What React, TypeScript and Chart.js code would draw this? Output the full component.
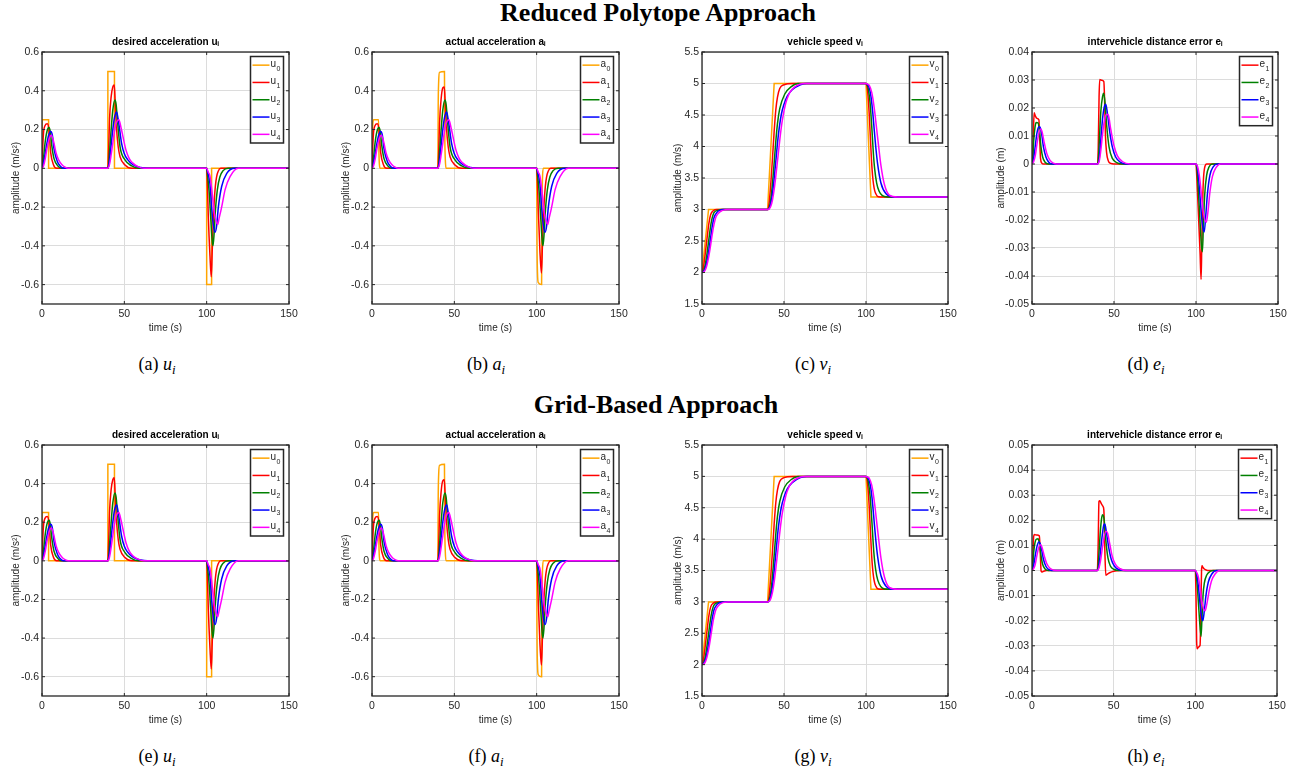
import React, { useEffect, useRef } from "react";
import { Chart, registerables } from "chart.js";

Chart.register(...registerables);

type P = [number, number][];

// ---------- tick labels ----------
const X_TICKS = [0, 50, 100, 150];
const ACC_TICKS = [-0.6, -0.4, -0.2, 0, 0.2, 0.4, 0.6];
const V_TICKS = [1.5, 2, 2.5, 3, 3.5, 4, 4.5, 5, 5.5];
const E_TICKS_RP = [-0.05, -0.04, -0.03, -0.02, -0.01, 0, 0.01, 0.02, 0.03, 0.04];
const E_TICKS_GB = [-0.05, -0.04, -0.03, -0.02, -0.01, 0, 0.01, 0.02, 0.03, 0.04, 0.05];

// ---------- desired acceleration u_i (time s, m/s^2) ----------
const U0: P = [[0, 0], [0, 0.25], [4, 0.25], [4, 0], [40, 0], [40, 0.5], [44, 0.5], [44, 0], [100, 0], [100, -0.6], [103, -0.6], [103, 0], [150, 0]];
const U1_P1: P = [[0, 0], [0.5, 0.12], [1, 0.19], [1.8, 0.22], [3.2, 0.23], [4.2, 0.2], [5.3, 0.08], [6.9, 0.02], [8.9, 0]];
const U1_P2: P = [[40, 0], [40.5, 0.1], [41, 0.25], [42, 0.37], [43, 0.42], [43.9, 0.43], [44.5, 0.33], [45.3, 0.2], [46.3, 0.11], [47.4, 0.06], [50.4, 0.017], [54.5, 0]];
const U1_P3: P = [[100, 0], [100.5, -0.1], [101, -0.25], [102, -0.45], [102.8, -0.56], [103.4, -0.42], [104, -0.27], [104.6, -0.17], [105.3, -0.09], [106, -0.045], [107, -0.015], [108.6, 0]];
const U2_P1: P = [[0, 0], [0.5, 0.02], [1, 0.06], [2, 0.14], [3, 0.19], [4.3, 0.21], [5, 0.19], [5.9, 0.12], [7.3, 0.05], [9.9, 0.01], [12, 0]];
const U2_P2: P = [[40, 0], [40.5, 0.02], [41, 0.08], [42, 0.2], [43, 0.3], [44.3, 0.352], [45, 0.33], [46, 0.23], [47.4, 0.11], [50.4, 0.043], [54.5, 0.012], [58.6, 0]];
const U2_P3: P = [[100, 0], [100.6, -0.04], [101.5, -0.12], [102.5, -0.26], [103.3, -0.37], [103.8, -0.4], [104.5, -0.34], [105.3, -0.22], [106.5, -0.11], [108, -0.045], [110, -0.012], [113, 0]];
const U3_P1: P = [[0, 0], [1, 0.03], [2, 0.08], [3, 0.13], [4, 0.17], [5.3, 0.19], [6.3, 0.17], [7.3, 0.1], [9.3, 0.035], [11, 0.012], [13, 0]];
const U3_P2: P = [[40, 0], [41, 0.04], [42, 0.12], [43, 0.2], [44, 0.26], [45.3, 0.29], [46.5, 0.24], [48.3, 0.13], [50, 0.075], [52, 0.045], [55, 0.02], [60, 0.004], [64, 0]];
const U3_P3: P = [[100, 0], [100.6, -0.02], [102, -0.08], [103, -0.2], [104, -0.29], [105.1, -0.33], [106, -0.3], [107.1, -0.2], [109.1, -0.094], [112.2, -0.026], [117.2, 0]];
const U4_P1: P = [[0, 0], [1, 0.015], [2, 0.05], [3, 0.1], [4, 0.14], [5, 0.165], [5.7, 0.17], [7, 0.14], [8.5, 0.08], [10, 0.045], [12, 0.02], [14, 0.006], [16, 0]];
const U4_P2: P = [[40, 0], [41, 0.02], [42, 0.07], [43, 0.13], [44, 0.19], [45, 0.23], [46.7, 0.25], [48, 0.21], [49, 0.17], [51, 0.094], [53, 0.05], [55, 0.028], [58, 0.01], [62, 0]];
const U4_P3: P = [[100, 0], [101, -0.02], [102, -0.04], [103.5, -0.14], [104.5, -0.22], [105.5, -0.265], [106.7, -0.29], [107.5, -0.26], [109.1, -0.2], [111.2, -0.11], [114.2, -0.043], [119.2, 0]];

// ---------- actual acceleration a_i ----------
const A0: P = [[0, 0], [0.2, 0.16], [0.5, 0.23], [1, 0.25], [4, 0.25], [4.2, 0.09], [4.5, 0.02], [5, 0], [40, 0], [40.2, 0.32], [40.5, 0.45], [41, 0.495], [44, 0.5], [44.2, 0.18], [44.5, 0.05], [45, 0], [100, 0], [100.2, -0.38], [100.5, -0.54], [101, -0.59], [103, -0.6], [103.2, -0.22], [103.5, -0.06], [104, 0], [150, 0]];
const A1_P2: P = [[40, 0], [40.5, 0.08], [41, 0.23], [42, 0.36], [43, 0.415], [43.9, 0.42], [44.5, 0.33], [45.3, 0.2], [46.3, 0.11], [47.4, 0.06], [50.4, 0.017], [54.5, 0]];
const A1_P3: P = [[100, 0], [100.5, -0.08], [101, -0.22], [102, -0.43], [102.9, -0.54], [103.5, -0.4], [104, -0.27], [104.6, -0.17], [105.3, -0.09], [106, -0.045], [107, -0.015], [108.6, 0]];

// ---------- vehicle speed v_i (m/s) ----------
const V0: P = [[0, 2], [4, 3], [40, 3], [44, 5], [100, 5], [103, 3.2], [150, 3.2]];
const V1_P1: P = [[0, 2], [0.5, 2.03], [1, 2.1], [1.8, 2.26], [3.2, 2.57], [4.2, 2.78], [5.3, 2.92], [6.9, 2.98], [9, 3]];
const V1_P2: P = [[40, 3], [41, 3.12], [42, 3.43], [43, 3.82], [44, 4.24], [45, 4.58], [46, 4.78], [47.4, 4.92], [50, 4.98], [55, 5]];
const V1_P3: P = [[100, 5], [100.5, 4.97], [101, 4.88], [102, 4.5], [102.8, 4.07], [103.4, 3.76], [104, 3.54], [104.6, 3.4], [105.3, 3.3], [106, 3.25], [107, 3.21], [108.6, 3.2]];
const V2_P1: P = [[0, 2], [1, 2.025], [2, 2.125], [3, 2.29], [4.3, 2.55], [5, 2.69], [5.9, 2.83], [7.3, 2.95], [9.9, 2.99], [12, 3]];
const V2_P2: P = [[40, 3], [41, 3.03], [42, 3.17], [43, 3.42], [44.3, 3.84], [45, 4.08], [46, 4.36], [47.4, 4.6], [50.4, 4.83], [54.5, 4.95], [58.6, 5]];
const V2_P3: P = [[100, 5], [100.6, 4.99], [101.5, 4.9], [102.5, 4.69], [103.3, 4.4], [103.8, 4.19], [104.5, 3.89], [105.3, 3.64], [106.5, 3.42], [108, 3.29], [110, 3.22], [113, 3.2]];
const V3_P1: P = [[0, 2], [1, 2.015], [2, 2.07], [3, 2.175], [4, 2.325], [5.3, 2.56], [6.3, 2.74], [7.3, 2.87], [9.3, 2.96], [11, 2.99], [13, 3]];
const V3_P2: P = [[40, 3], [41, 3.02], [42, 3.1], [43, 3.26], [44, 3.49], [45.3, 3.85], [46.5, 4.17], [48.3, 4.5], [50, 4.67], [52, 4.8], [55, 4.9], [60, 4.98], [64, 5]];
const V3_P3: P = [[100, 5], [100.6, 4.99], [102, 4.93], [103, 4.8], [104, 4.57], [105.1, 4.24], [106, 3.98], [107.1, 3.72], [109.1, 3.42], [112.2, 3.25], [117.2, 3.2]];
const V4_P1: P = [[0, 2], [1, 2.008], [2, 2.04], [3, 2.115], [4, 2.235], [5, 2.39], [5.7, 2.51], [7, 2.72], [8.5, 2.88], [10, 2.94], [12, 2.98], [14, 2.995], [16, 3]];
const V4_P2: P = [[40, 3], [41, 3.01], [42, 3.055], [43, 3.155], [44, 3.315], [45, 3.525], [46.7, 3.93], [48, 4.23], [49, 4.42], [51, 4.68], [53, 4.83], [55, 4.91], [58, 4.97], [62, 5]];
const V4_P3: P = [[100, 5], [101, 4.99], [102, 4.97], [103.5, 4.86], [104.5, 4.71], [105.5, 4.51], [106.7, 4.23], [107.5, 4.05], [109.1, 3.7], [111.2, 3.4], [114.2, 3.23], [119.2, 3.2]];

// ---------- distance error e_i, reduced polytope (m) ----------
const E1_P1: P = [[0, 0], [0.5, 0.003], [0.9, 0.012], [1.3, 0.0183], [2, 0.0172], [3, 0.0163], [4.2, 0.0158], [4.7, 0.009], [5.2, 0.002], [6, 0.0003], [7, 0]];
const E1_P2: P = [[40, 0], [40.4, 0.006], [40.9, 0.024], [41.3, 0.0302], [42.5, 0.0299], [43.8, 0.0294], [44.3, 0.022], [44.8, 0.01], [45.5, 0.004], [46.5, 0.0012], [48, 0.0002], [50, 0]];
const E1_P3: P = [[100, 0], [100.5, -0.005], [101.5, -0.018], [102.5, -0.032], [103.1, -0.0412], [103.5, -0.03], [104, -0.015], [104.5, -0.006], [105.2, -0.0015], [106.5, 0]];
const E2_P1: P = [[0, 0], [0.5, 0.002], [1, 0.008], [1.8, 0.013], [2.5, 0.0148], [3.7, 0.0147], [4.5, 0.012], [5.5, 0.006], [6.5, 0.0025], [8, 0.0006], [10, 0]];
const E2_P2: P = [[40, 0], [40.5, 0.002], [41.2, 0.01], [42, 0.019], [43, 0.024], [43.7, 0.0253], [44.5, 0.022], [45.5, 0.014], [47, 0.006], [49, 0.002], [52, 0.0004], [55, 0]];
const E2_P3: P = [[100, 0], [100.6, -0.002], [101.5, -0.01], [102.5, -0.021], [103.3, -0.029], [103.9, -0.0313], [104.5, -0.022], [105.3, -0.011], [106.5, -0.004], [108, -0.001], [110, 0]];
const E3_P1: P = [[0, 0], [1, 0.002], [2, 0.0065], [3, 0.011], [4, 0.0132], [4.8, 0.0133], [5.8, 0.011], [7, 0.006], [8.5, 0.0025], [10, 0.0008], [12, 0]];
const E3_P2: P = [[40, 0], [41, 0.002], [42, 0.009], [43, 0.016], [44, 0.0202], [45, 0.0213], [46, 0.018], [47.5, 0.011], [49, 0.006], [51, 0.0025], [54, 0.0006], [58, 0]];
const E3_P3: P = [[100, 0], [101, -0.002], [102, -0.008], [103, -0.016], [104, -0.022], [105, -0.0243], [106, -0.018], [107, -0.0105], [108.5, -0.004], [110.5, -0.001], [113, 0]];
const E4_P1: P = [[0, 0], [1, 0.0008], [2, 0.003], [3, 0.007], [4, 0.0105], [5.2, 0.0125], [6, 0.0118], [7.5, 0.0075], [9, 0.0038], [11, 0.0013], [13, 0.0003], [15, 0]];
const E4_P2: P = [[40, 0], [41, 0.001], [42, 0.005], [43, 0.0105], [44, 0.015], [45.5, 0.0178], [46.5, 0.0175], [48, 0.0125], [50, 0.0065], [52, 0.003], [55, 0.0009], [60, 0]];
const E4_P3: P = [[100, 0], [101, -0.001], [102, -0.004], [103, -0.009], [104, -0.015], [105, -0.019], [106.3, -0.0208], [107.3, -0.017], [108.5, -0.01], [110, -0.0045], [112, -0.0015], [115, 0]];

// ---------- distance error e_i, grid-based (m) ----------
const H1_P1: P = [[0, 0], [0.5, 0.004], [1, 0.0135], [1.5, 0.0143], [3, 0.0141], [4.5, 0.0138], [5, 0.008], [5.6, -0.0003], [6.2, -0.0006], [7.5, -0.0002], [9, 0]];
const H1_P2: P = [[40, 0], [40.5, 0.01], [41, 0.0275], [41.5, 0.0278], [42.5, 0.0265], [43.5, 0.0255], [44, 0.024], [44.6, 0.008], [45.2, -0.0019], [46, -0.0015], [47.5, -0.0009], [50, -0.0003], [54, 0]];
const H1_P3: P = [[100, 0], [100.4, -0.01], [100.8, -0.028], [101.1, -0.0312], [102, -0.0305], [102.9, -0.0298], [103.4, -0.015], [103.8, 0], [104.1, 0.0019], [104.7, 0.0012], [105.5, 0.0006], [107, 0.0001], [108, 0]];
const H2_P1: P = [[0, 0], [0.5, 0.002], [1, 0.007], [1.8, 0.011], [2.7, 0.0125], [3.7, 0.0126], [4.5, 0.011], [5.5, 0.006], [6.5, 0.0025], [8, 0.0006], [10, 0]];
const H2_P2: P = [[40, 0], [40.5, 0.002], [41.2, 0.009], [42, 0.017], [42.8, 0.0215], [43.4, 0.0222], [44.2, 0.02], [45.2, 0.012], [46.5, 0.005], [48, 0.0018], [50, 0.0005], [53, 0]];
const H2_P3: P = [[100, 0], [100.6, -0.002], [101.5, -0.009], [102.5, -0.019], [103.5, -0.0263], [104, -0.02], [104.7, -0.01], [105.5, -0.005], [107, -0.0018], [109, -0.0004], [111, 0]];
const H3_P1: P = [[0, 0], [1, 0.002], [2, 0.006], [3, 0.0095], [4.2, 0.0114], [5, 0.0108], [6, 0.008], [7, 0.0045], [8.5, 0.0017], [10, 0.0005], [12, 0]];
const H3_P2: P = [[40, 0], [41, 0.002], [42, 0.008], [43, 0.014], [44, 0.0182], [44.6, 0.0185], [45.6, 0.015], [47, 0.009], [48.5, 0.0045], [50.5, 0.0017], [53, 0.0004], [57, 0]];
const H3_P3: P = [[100, 0], [101, -0.002], [102, -0.007], [103, -0.014], [104, -0.019], [104.6, -0.02], [105.5, -0.016], [106.5, -0.01], [108, -0.0045], [110, -0.0015], [113, 0]];
const H4_P1: P = [[0, 0], [1, 0.0007], [2, 0.0025], [3, 0.006], [4, 0.009], [5, 0.0103], [6, 0.0095], [7.5, 0.0058], [9, 0.0028], [11, 0.0009], [13, 0.0002], [15, 0]];
const H4_P2: P = [[40, 0], [41, 0.001], [42, 0.004], [43, 0.0085], [44, 0.0128], [45.3, 0.0156], [46.3, 0.0148], [47.5, 0.011], [49, 0.006], [51, 0.0025], [54, 0.0007], [58, 0]];
const H4_P3: P = [[100, 0], [101, -0.001], [102, -0.003], [103, -0.0075], [104, -0.012], [105, -0.0152], [106, -0.016], [107, -0.0135], [108.5, -0.008], [110, -0.004], [112, -0.0015], [115, 0]];

const END_ZERO: P = [[150, 0]];
const END_V: P = [[150, 3.2]];

// ---------- styling ----------
const FONT = "'Liberation Sans', Arial, Helvetica, sans-serif";
const SERIF = "'Liberation Serif', 'Times New Roman', serif";
const AXIS_COLOR = "#262626";
const GRID_COLOR = "#dcdcdc";
const ORANGE = "#FFA500";
const RED = "#FF0000";
const GREEN = "#008000";
const BLUE = "#0000FF";
const MAGENTA = "#FF00FF";

type Series = { label: string; color: string; parts: P[]; smooth: boolean };

const U_SERIES: Series[] = [
  { label: "u₀", color: ORANGE, parts: [U0], smooth: false },
  { label: "u₁", color: RED, parts: [U1_P1, U1_P2, U1_P3, END_ZERO], smooth: true },
  { label: "u₂", color: GREEN, parts: [U2_P1, U2_P2, U2_P3, END_ZERO], smooth: true },
  { label: "u₃", color: BLUE, parts: [U3_P1, U3_P2, U3_P3, END_ZERO], smooth: true },
  { label: "u₄", color: MAGENTA, parts: [U4_P1, U4_P2, U4_P3, END_ZERO], smooth: true },
];
const A_SERIES: Series[] = [
  { label: "a₀", color: ORANGE, parts: [A0], smooth: true },
  { label: "a₁", color: RED, parts: [U1_P1, A1_P2, A1_P3, END_ZERO], smooth: true },
  { label: "a₂", color: GREEN, parts: [U2_P1, U2_P2, U2_P3, END_ZERO], smooth: true },
  { label: "a₃", color: BLUE, parts: [U3_P1, U3_P2, U3_P3, END_ZERO], smooth: true },
  { label: "a₄", color: MAGENTA, parts: [U4_P1, U4_P2, U4_P3, END_ZERO], smooth: true },
];
const V_SERIES: Series[] = [
  { label: "v₀", color: ORANGE, parts: [V0], smooth: false },
  { label: "v₁", color: RED, parts: [V1_P1, V1_P2, V1_P3, END_V], smooth: true },
  { label: "v₂", color: GREEN, parts: [V2_P1, V2_P2, V2_P3, END_V], smooth: true },
  { label: "v₃", color: BLUE, parts: [V3_P1, V3_P2, V3_P3, END_V], smooth: true },
  { label: "v₄", color: MAGENTA, parts: [V4_P1, V4_P2, V4_P3, END_V], smooth: true },
];
const E_SERIES_RP: Series[] = [
  { label: "e₁", color: RED, parts: [E1_P1, E1_P2, E1_P3, END_ZERO], smooth: true },
  { label: "e₂", color: GREEN, parts: [E2_P1, E2_P2, E2_P3, END_ZERO], smooth: true },
  { label: "e₃", color: BLUE, parts: [E3_P1, E3_P2, E3_P3, END_ZERO], smooth: true },
  { label: "e₄", color: MAGENTA, parts: [E4_P1, E4_P2, E4_P3, END_ZERO], smooth: true },
];
const E_SERIES_GB: Series[] = [
  { label: "e₁", color: RED, parts: [H1_P1, H1_P2, H1_P3, END_ZERO], smooth: true },
  { label: "e₂", color: GREEN, parts: [H2_P1, H2_P2, H2_P3, END_ZERO], smooth: true },
  { label: "e₃", color: BLUE, parts: [H3_P1, H3_P2, H3_P3, END_ZERO], smooth: true },
  { label: "e₄", color: MAGENTA, parts: [H4_P1, H4_P2, H4_P3, END_ZERO], smooth: true },
];

type Spec = {
  key: string;
  plotLeft: number;
  plotTop: number;
  plotW: number;
  plotH: number;
  title: string;
  yTitle: string;
  yMin: number;
  yMax: number;
  yTicks: number[];
  yTitlePad: number;
  series: Series[];
};

const Y_AXIS_W = 42;
const TITLE_H = 22;
const X_AXIS_H = 36;
const PAD_R = 10;

const ROW1_TOP = 52;
const ROW2_TOP = 445;

const SPECS: Spec[] = [
  { key: "a", plotLeft: 42, plotTop: ROW1_TOP, plotW: 247, plotH: 252, title: "desired acceleration uᵢ", yTitle: "amplitude (m/s²)", yMin: -0.7, yMax: 0.6, yTicks: ACC_TICKS, yTitlePad: 10, series: U_SERIES },
  { key: "b", plotLeft: 372, plotTop: ROW1_TOP, plotW: 247, plotH: 252, title: "actual acceleration aᵢ", yTitle: "amplitude (m/s²)", yMin: -0.7, yMax: 0.6, yTicks: ACC_TICKS, yTitlePad: 10, series: A_SERIES },
  { key: "c", plotLeft: 702, plotTop: ROW1_TOP, plotW: 246, plotH: 252, title: "vehicle speed vᵢ", yTitle: "amplitude (m/s)", yMin: 1.5, yMax: 5.5, yTicks: V_TICKS, yTitlePad: 12, series: V_SERIES },
  { key: "d", plotLeft: 1032, plotTop: ROW1_TOP, plotW: 246, plotH: 252, title: "intervehicle distance error eᵢ", yTitle: "amplitude (m)", yMin: -0.05, yMax: 0.04, yTicks: E_TICKS_RP, yTitlePad: 5, series: E_SERIES_RP },
  { key: "e", plotLeft: 42, plotTop: ROW2_TOP, plotW: 247, plotH: 251, title: "desired acceleration uᵢ", yTitle: "amplitude (m/s²)", yMin: -0.7, yMax: 0.6, yTicks: ACC_TICKS, yTitlePad: 10, series: U_SERIES },
  { key: "f", plotLeft: 372, plotTop: ROW2_TOP, plotW: 247, plotH: 251, title: "actual acceleration aᵢ", yTitle: "amplitude (m/s²)", yMin: -0.7, yMax: 0.6, yTicks: ACC_TICKS, yTitlePad: 10, series: A_SERIES },
  { key: "g", plotLeft: 702, plotTop: ROW2_TOP, plotW: 246, plotH: 251, title: "vehicle speed vᵢ", yTitle: "amplitude (m/s)", yMin: 1.5, yMax: 5.5, yTicks: V_TICKS, yTitlePad: 12, series: V_SERIES },
  { key: "h", plotLeft: 1032, plotTop: ROW2_TOP, plotW: 245, plotH: 251, title: "intervehicle distance error eᵢ", yTitle: "amplitude (m)", yMin: -0.05, yMax: 0.05, yTicks: E_TICKS_GB, yTitlePad: 5, series: E_SERIES_GB },
];

const CAPTIONS = [
  { letter: "a", v: "u", cx: 157, top: 353 },
  { letter: "b", v: "a", cx: 486, top: 353 },
  { letter: "c", v: "v", cx: 813, top: 353 },
  { letter: "d", v: "e", cx: 1146, top: 353 },
  { letter: "e", v: "u", cx: 157, top: 745 },
  { letter: "f", v: "a", cx: 486, top: 745 },
  { letter: "g", v: "v", cx: 813, top: 745 },
  { letter: "h", v: "e", cx: 1146, top: 745 },
];

const fmt = (v: any) => String(Math.round(Number(v) * 10000) / 10000);

const framePlugin = {
  id: "matlabFrame",
  afterDatasetsDraw(chart: any) {
    const { ctx, chartArea: a } = chart;
    const xs = chart.scales.x;
    const ys = chart.scales.y;
    ctx.save();
    // inward tick marks on all four sides
    ctx.strokeStyle = AXIS_COLOR;
    ctx.lineWidth = 1;
    ctx.beginPath();
    xs.ticks.forEach((t: any) => {
      const px = xs.getPixelForValue(t.value);
      ctx.moveTo(px, a.bottom);
      ctx.lineTo(px, a.bottom - 3);
      ctx.moveTo(px, a.top);
      ctx.lineTo(px, a.top + 3);
    });
    ys.ticks.forEach((t: any) => {
      const py = ys.getPixelForValue(t.value);
      ctx.moveTo(a.left, py);
      ctx.lineTo(a.left + 3, py);
      ctx.moveTo(a.right, py);
      ctx.lineTo(a.right - 3, py);
    });
    ctx.stroke();
    // axes box
    ctx.lineWidth = 1.3;
    ctx.strokeRect(a.left, a.top, a.right - a.left, a.bottom - a.top);

    // legend box (inside, north-east)
    const ds = chart.data.datasets;
    const n = ds.length;
    const rowH = 17.3;
    const bw = 33;
    const bh = n * rowH;
    const bx = a.right - 5.5 - bw;
    const by = a.top + 4.5;
    ctx.fillStyle = "#ffffff";
    ctx.fillRect(bx, by, bw, bh);
    ds.forEach((d: any, i: number) => {
      const cy = by + rowH * (i + 0.5);
      ctx.strokeStyle = d.borderColor;
      ctx.lineWidth = 1.5;
      ctx.beginPath();
      ctx.moveTo(bx + 2, cy);
      ctx.lineTo(bx + 19, cy);
      ctx.stroke();
      const label: string = d.label;
      const base = label.slice(0, label.length - 1);
      const subCode = label.charCodeAt(label.length - 1) - 0x2080;
      const sub = String(subCode);
      ctx.fillStyle = AXIS_COLOR;
      ctx.textBaseline = "middle";
      ctx.textAlign = "left";
      ctx.font = `10px ${FONT}`;
      ctx.fillText(base, bx + 20, cy - 1);
      const w = ctx.measureText(base).width;
      ctx.font = `7px ${FONT}`;
      ctx.fillText(sub, bx + 20 + w + 0.5, cy + 3.5);
    });
    ctx.strokeStyle = AXIS_COLOR;
    ctx.lineWidth = 1.5;
    ctx.strokeRect(bx, by, bw, bh);
    ctx.restore();
  },
};

function Panel({ spec }: { spec: Spec }) {
  const ref = useRef<HTMLCanvasElement | null>(null);
  const width = Y_AXIS_W + spec.plotW + PAD_R;
  const height = TITLE_H + spec.plotH + X_AXIS_H;
  const left = spec.plotLeft - Y_AXIS_W;
  const top = spec.plotTop - TITLE_H;

  useEffect(() => {
    if (!ref.current) return;
    const n = spec.series.length;
    const chart = new Chart(ref.current, {
      type: "line",
      data: {
        datasets: spec.series.map((s, i) => ({
          label: s.label,
          data: s.parts.flat().map(([x, y]) => ({ x, y })),
          borderColor: s.color,
          backgroundColor: s.color,
          borderWidth: 1.5,
          pointRadius: 0,
          pointHoverRadius: 0,
          fill: false,
          tension: 0,
          cubicInterpolationMode: s.smooth ? "monotone" : "default",
          order: n - i,
        })),
      },
      options: {
        responsive: false,
        animation: false,
        events: [],
        layout: { padding: { left: 0, right: PAD_R, top: 0, bottom: 0 } },
        plugins: {
          legend: { display: false },
          tooltip: { enabled: false },
          title: {
            display: true,
            text: spec.title,
            fullSize: false,
            color: "#000000",
            font: { family: FONT, size: 10, weight: "bold" },
            padding: { top: 6, bottom: 4 },
          },
        },
        scales: {
          x: {
            type: "linear",
            min: 0,
            max: 150,
            afterBuildTicks: (s: any) => {
              s.ticks = X_TICKS.map((value) => ({ value }));
            },
            afterFit: (s: any) => {
              s.height = X_AXIS_H;
              s.paddingLeft = 0;
              s.paddingRight = 0;
            },
            ticks: {
              padding: 4,
              color: AXIS_COLOR,
              font: { family: FONT, size: 10.5 },
              maxRotation: 0,
              autoSkip: false,
              callback: fmt,
            },
            grid: { color: GRID_COLOR, lineWidth: 1, drawTicks: false },
            border: { display: false },
            title: {
              display: true,
              text: "time (s)",
              color: AXIS_COLOR,
              font: { family: FONT, size: 10 },
              padding: { top: 0, bottom: 6 },
            },
          },
          y: {
            type: "linear",
            min: spec.yMin,
            max: spec.yMax,
            afterBuildTicks: (s: any) => {
              s.ticks = spec.yTicks.map((value) => ({ value }));
            },
            afterFit: (s: any) => {
              s.width = Y_AXIS_W;
              s.paddingTop = 0;
              s.paddingBottom = 0;
            },
            ticks: {
              padding: 3,
              color: AXIS_COLOR,
              font: { family: FONT, size: 10.5 },
              autoSkip: false,
              callback: fmt,
            },
            grid: { color: GRID_COLOR, lineWidth: 1, drawTicks: false },
            border: { display: false },
            title: {
              display: true,
              text: spec.yTitle,
              color: AXIS_COLOR,
              font: { family: FONT, size: 10 },
              padding: { top: spec.yTitlePad, bottom: 0 },
            },
          },
        },
      },
      plugins: [framePlugin],
    } as any);
    return () => chart.destroy();
  }, [spec]);

  return (
    <canvas
      ref={ref}
      width={width}
      height={height}
      style={{ position: "absolute", left, top, width, height }}
    />
  );
}

export default function App() {
  return (
    <div
      style={{
        position: "absolute",
        left: 0,
        top: 0,
        width: 1301,
        height: 776,
        background: "#ffffff",
        overflow: "hidden",
      }}
    >
      <div
        style={{
          position: "absolute",
          left: 658,
          top: -2,
          transform: "translateX(-50%)",
          whiteSpace: "nowrap",
          fontFamily: SERIF,
          fontWeight: "bold",
          fontSize: 26,
          lineHeight: "30px",
          color: "#000",
        }}
      >
        Reduced Polytope Approach
      </div>
      <div
        style={{
          position: "absolute",
          left: 656,
          top: 390,
          transform: "translateX(-50%)",
          whiteSpace: "nowrap",
          fontFamily: SERIF,
          fontWeight: "bold",
          fontSize: 26,
          lineHeight: "30px",
          color: "#000",
        }}
      >
        Grid-Based Approach
      </div>
      {SPECS.map((s) => (
        <Panel key={s.key} spec={s} />
      ))}
      {CAPTIONS.map((c) => (
        <div
          key={c.letter}
          style={{
            position: "absolute",
            left: c.cx,
            top: c.top,
            transform: "translateX(-50%)",
            whiteSpace: "nowrap",
            fontFamily: SERIF,
            fontSize: 18,
            lineHeight: "22px",
            color: "#000",
          }}
        >
          ({c.letter}){" "}
          <i>{c.v}</i>
          <sub style={{ fontSize: 13, verticalAlign: "-4px", lineHeight: 0 }}>
            <i>i</i>
          </sub>
        </div>
      ))}
    </div>
  );
}
